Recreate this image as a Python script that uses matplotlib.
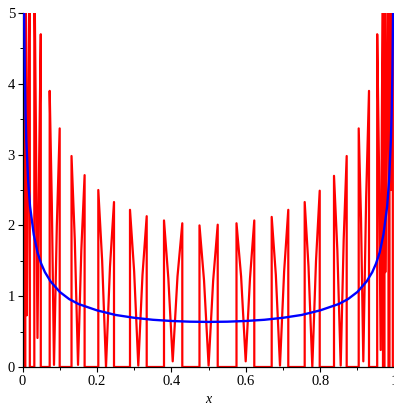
"""Two densities on [0, 1]: oscillating lobes (red) and the arcsine curve (blue)."""
import matplotlib
matplotlib.use("Agg")
import matplotlib.pyplot as plt
from matplotlib.ticker import MultipleLocator, FixedLocator, FixedFormatter

# red curve, one entry per lobe: rise at left_x, V down to trough, back up, drop at right_x
left_x   = [0.0016, 0.0073, 0.0315, 0.0728, 0.1315, 0.2035, 0.2887, 0.3801, 0.4755,
            0.5750, 0.6696, 0.7583, 0.8371, 0.9035, 0.9532, 0.9728, 0.9863]
left_h   = [9.0, 7.5, 5.8, 3.90, 2.98, 2.50, 2.22, 2.07, 2.00,
            2.03, 2.12, 2.33, 2.70, 3.37, 4.70, 7.0, 9.0]
left_mid = [6.0, 4.5, 3.4, 2.3, 1.8, 1.5, 1.35, 1.25, 1.22,
            1.28, 1.3, 1.42, 1.65, 2.1, 2.9, 4.2, 6.0]
trough_x = [0.0038, 0.0113, 0.0400, 0.0844, 0.1490, 0.2242, 0.3110, 0.4035, 0.5000,
            0.5997, 0.6919, 0.7788, 0.8551, 0.9159, 0.9626, 0.9750, 0.9903]
trough_y = [2.5, 0.73, 0.41, 0.03, 0.03, 0.0, 0.02, 0.08, 0.02,
            0.08, 0.02, 0.0, 0.02, 0.08, 0.24, 1.34, 2.5]
right_mid = [6.0, 3.8, 2.9, 2.0, 1.65, 1.42, 1.3, 1.28, 1.22,
             1.25, 1.35, 1.5, 1.8, 2.4, 3.5, 4.2, 6.0]
right_h  = [9.0, 6.0, 4.70, 3.37, 2.71, 2.33, 2.13, 2.03, 2.01,
            2.07, 2.22, 2.49, 2.98, 3.90, 5.8, 7.0, 9.0]
right_x  = [0.0059, 0.0194, 0.0489, 0.0997, 0.1667, 0.2457, 0.3336, 0.4293, 0.5245,
            0.6228, 0.7142, 0.7987, 0.8712, 0.9312, 0.9688, 0.9836, 0.9952]

# blue curve
blue_x = [0.002, 0.003, 0.004, 0.006, 0.008, 0.01, 0.015, 0.02, 0.03, 0.04, 0.05, 0.06,
          0.075, 0.1, 0.125, 0.15, 0.2, 0.25, 0.3, 0.35, 0.4, 0.45, 0.5,
          0.55, 0.6, 0.65, 0.7, 0.75, 0.8, 0.85, 0.875, 0.9, 0.925, 0.94, 0.95, 0.96,
          0.97, 0.98, 0.985, 0.99, 0.992, 0.994, 0.996, 0.997, 0.998]
blue_y = [7.1, 5.8, 5.04, 4.12, 3.57, 3.2, 2.62, 2.27, 1.87, 1.62, 1.46, 1.34,
          1.21, 1.06, 0.96, 0.89, 0.80, 0.735, 0.695, 0.667, 0.65, 0.64, 0.637,
          0.64, 0.65, 0.667, 0.695, 0.735, 0.80, 0.89, 0.96, 1.06, 1.21, 1.34, 1.46, 1.62,
          1.87, 2.27, 2.62, 3.2, 3.57, 4.12, 5.04, 5.8, 7.1]

x_ticks = [0, 0.2, 0.4, 0.6, 0.8, 1.0]
x_tick_labels = ["0", "0.2", "0.4", "0.6", "0.8", "1"]
y_ticks = [0, 1, 2, 3, 4, 5]


def red_path():
    xs, ys = [0.0], [0.0]
    for i in range(len(left_x)):
        xs += [left_x[i], left_x[i], (left_x[i] + trough_x[i]) / 2, trough_x[i],
               (trough_x[i] + right_x[i]) / 2, right_x[i], right_x[i]]
        ys += [0.0, left_h[i], left_mid[i], trough_y[i], right_mid[i], right_h[i], 0.0]
    xs.append(1.0)
    ys.append(0.0)
    return xs, ys


def main():
    plt.rcParams["font.family"] = ["Liberation Serif", "DejaVu Serif"]
    fig = plt.figure(figsize=(3.94, 4.05), dpi=100)
    ax = fig.add_axes([22.6 / 394, 38 / 405, 372 / 394, 354 / 405])

    rx, ry = red_path()
    ax.plot(rx, ry, color="#ff0000", lw=1.6, solid_joinstyle="round", zorder=2)
    ax.plot(blue_x, blue_y, color="#0000ff", lw=1.7, zorder=3)

    ax.set_xlim(0, 1)
    ax.set_ylim(0, 5)
    for side in ("top", "right"):
        ax.spines[side].set_visible(False)
    for side in ("left", "bottom"):
        ax.spines[side].set_linewidth(0.9)

    ax.xaxis.set_major_locator(FixedLocator(x_ticks))
    ax.xaxis.set_major_formatter(FixedFormatter(x_tick_labels))
    ax.xaxis.set_minor_locator(MultipleLocator(0.1))
    ax.yaxis.set_major_locator(FixedLocator(y_ticks))
    ax.yaxis.set_minor_locator(MultipleLocator(0.5))
    ax.tick_params(which="major", direction="out", length=3.5, width=0.8,
                   labelsize=10.5, pad=2)
    ax.tick_params(which="minor", direction="out", length=2, width=0.7)

    ax.set_xlabel("x", style="italic", fontsize=10, labelpad=4)
    fig.savefig("out.png", dpi=100)


if __name__ == "__main__":
    main()
